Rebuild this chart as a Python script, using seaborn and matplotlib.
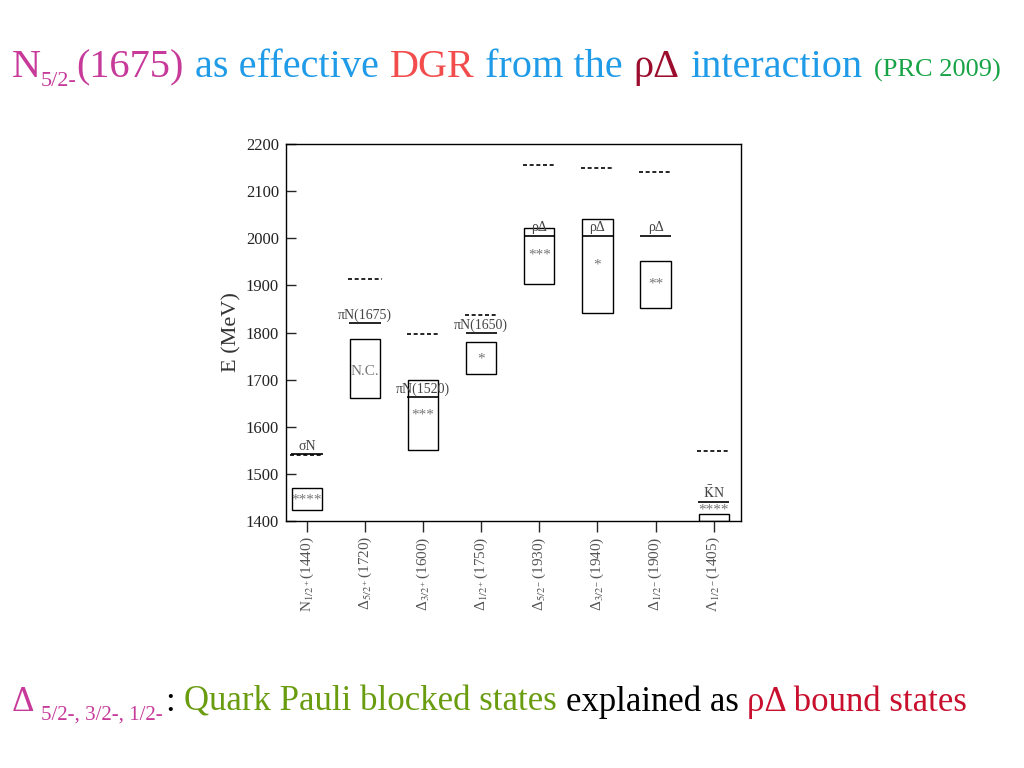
import matplotlib
matplotlib.use("Agg")
import matplotlib.pyplot as plt
import seaborn as sns
import numpy as np

# resonances on the x axis
states = ["N$_{1/2^+}$(1440)", "Δ$_{5/2^+}$(1720)", "Δ$_{3/2^+}$(1600)", "Δ$_{1/2^+}$(1750)",
          "Δ$_{5/2^-}$(1930)", "Δ$_{3/2^-}$(1940)", "Δ$_{1/2^-}$(1900)", "Λ$_{1/2^-}$(1405)"]
# experimental mass ranges (boxes)
box_low = [1423, 1661, 1551, 1712, 1903, 1841, 1852, 1400]
box_high = [1470, 1786, 1699, 1780, 2022, 2041, 1952, 1415]
status = ["****", "N.C.", "***", "*", "***", "*", "**", "****"]
status_e = [1444, 1718, 1625, 1744, 1965, 1943, 1902, 1424]
# meson-baryon thresholds
thr_e = [1542, 1820, 1663, 1799, 2005, 2005, 2005, 1440]
thr_label = ["σN", "πN(1675)", "πN(1520)", "πN(1650)", "ρΔ", "ρΔ", "ρΔ", r"$\bar{\mathrm{K}}$N"]
# quark model predictions (dashed)
quark_e = [1540, 1913, 1797, 1837, 2155, 2149, 2140, 1549]

sns.set_theme(style="white")
plt.rcParams["font.family"] = ["Liberation Serif", "DejaVu Serif"]
plt.rcParams["mathtext.fontset"] = "stix"

fig = plt.figure(figsize=(10.24, 7.68), dpi=100)
ax = fig.add_axes([0.2793, 0.3216, 0.4443, 0.4909])

x = np.arange(len(states))
ax.bar(x, np.array(box_high) - np.array(box_low), bottom=box_low, width=0.52,
       fill=False, edgecolor="black", linewidth=1.0)
ax.hlines(thr_e, x - 0.27, x + 0.27, colors="black", linewidth=1.2)
ax.hlines(quark_e, x - 0.285, x + 0.285, colors="black", linewidth=1.2,
          linestyles=(0, (2.4, 1.6)))

for i in x:
    ax.text(i, thr_e[i] + 3, thr_label[i], ha="center", va="bottom",
            fontsize=10, color="#444444")
    ax.text(i, status_e[i], status[i], ha="center", va="center",
            fontsize=11, color="#777777")

ax.set_xlim(-0.36, 7.47)
ax.set_ylim(1400, 2200)
ax.set_yticks(range(1400, 2201, 100))
ax.set_xticks(x)
ax.set_xticklabels(states, rotation=90, fontsize=11, color="#555555")
ax.tick_params(axis="y", direction="in", length=7, width=1, labelsize=12,
               labelcolor="#222222", left=True, pad=5)
ax.tick_params(axis="x", direction="out", length=8, width=1, bottom=True, pad=3)
for s in ax.spines.values():
    s.set_color("black")
    s.set_linewidth(1.0)
ax.set_ylabel("E (MeV)", fontsize=16, color="#333333", labelpad=3)
ax.grid(False)

renderer = fig.canvas.get_renderer()
W, H = fig.get_size_inches() * fig.dpi


def line_of_text(x0, base_y, pieces):
    # pieces: (text, size, color, drop_px, gap_before_em)
    xp = x0
    for txt, size, color, drop, gap in pieces:
        xp += gap * size * fig.dpi / 72
        t = fig.text(xp / W, (H - base_y - drop) / H, txt, fontsize=size,
                     color=color, ha="left", va="baseline")
        xp += t.get_window_extent(renderer).width


mag = "#c73a9a"
blue = "#1f9be8"
line_of_text(12, 77, [
    ("N", 29, mag, 0, 0),
    ("5/2-", 16, mag, 9, 0),
    ("(1675)", 29, mag, 0, 0),
    ("as effective", 29, blue, 0, 0.27),
    ("DGR", 29, "#f24c4c", 0, 0.27),
    ("from the", 29, blue, 0, 0.27),
    ("ρΔ", 29, "#9c0c2c", 0, 0.27),
    ("interaction", 29, blue, 0, 0.25),
    ("(PRC 2009)", 19, "#17a346", 0, 0.45),
])

line_of_text(12, 711, [
    ("Δ", 25, mag, 0, 0),
    ("5/2-, 3/2-, 1/2-", 15, mag, 9, 0.3),
    (":", 25, "black", 0, 0.1),
    ("Quark Pauli blocked states", 25, "#6a9c10", 0, 0.25),
    ("explained as", 25, "black", 0, 0.25),
    ("ρΔ bound states", 25, "#c8102e", 0, 0.25),
])

fig.savefig("out.png", dpi=100)
